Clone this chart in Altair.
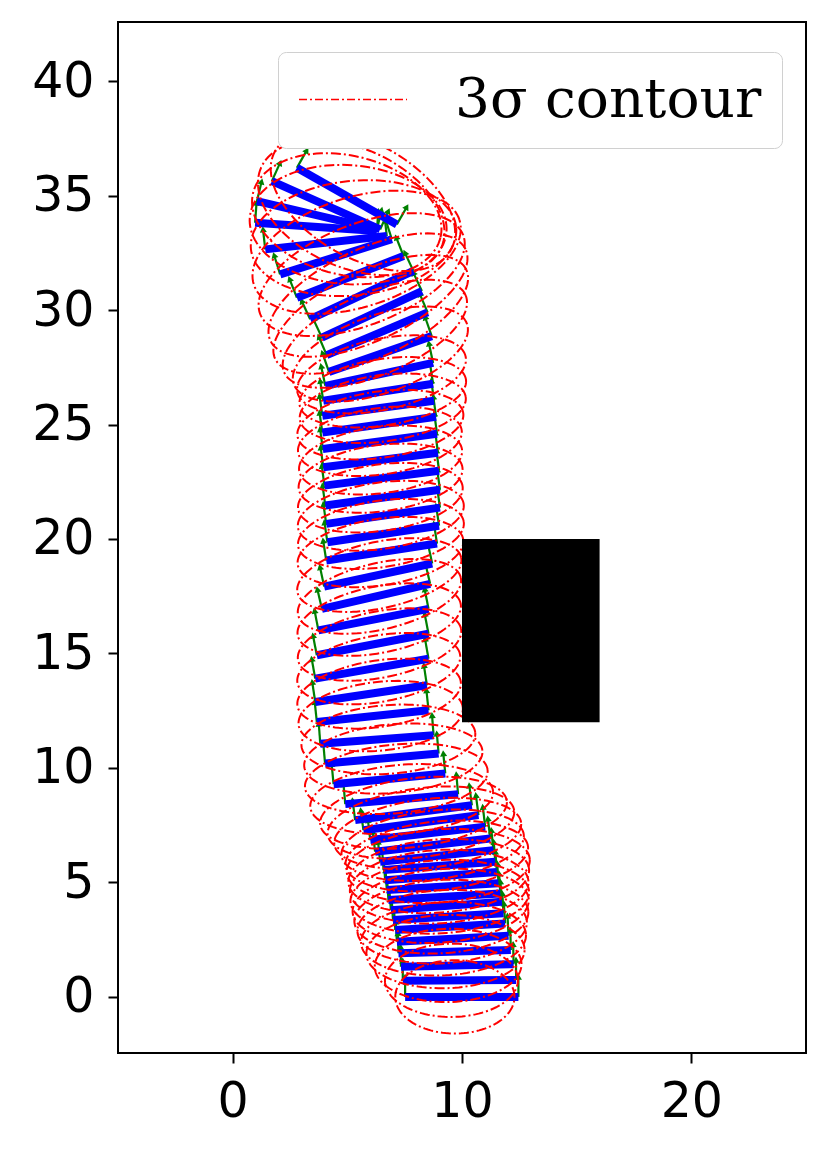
import numpy as np
import pandas as pd
import altair as alt

# ---- rod poses: left and right end points (data units) ----
xl = [7.52, 7.42, 7.34, 7.23, 7.16, 7.09, 6.99, 6.90, 6.79, 6.72, 6.65, 6.58, 6.43, 6.21, 6.00,
      5.70, 5.34, 4.91, 4.40, 4.03, 3.82, 3.67, 3.60, 3.60, 3.67, 3.74, 3.89, 3.99, 4.08, 4.13,
      4.08, 4.04, 4.00, 3.95, 3.93, 3.91, 3.91, 3.95, 4.04, 4.20, 4.10, 3.89, 3.38, 2.80, 2.07,
      1.42, 0.98, 1.06, 1.71, 2.80]
yl = [0.00, 0.71, 1.32, 1.91, 2.41, 2.92, 3.36, 3.79, 4.23, 4.67, 5.10, 5.54, 5.90, 6.34, 6.85,
      7.28, 7.72, 8.42, 9.29, 10.19, 11.06, 12.01, 12.88, 13.90, 14.92, 16.01, 16.95, 17.92, 19.06, 19.86,
      20.66, 21.46, 22.33, 23.13, 23.93, 24.65, 25.38, 26.04, 26.69, 27.30, 28.03, 28.80, 29.60, 30.54, 31.56,
      32.65, 33.81, 34.76, 35.63, 36.21]
xr = [12.46, 12.36, 12.25, 12.13, 12.03, 11.88, 11.81, 11.74, 11.67, 11.59, 11.52, 11.45, 11.37, 11.23, 11.01,
      10.72, 10.43, 9.83, 9.27, 8.98, 8.76, 8.54, 8.47, 8.54, 8.54, 8.54, 8.61, 8.70, 8.91, 9.00,
      9.04, 9.04, 9.00, 8.95, 8.91, 8.87, 8.78, 8.74, 8.74, 8.68, 8.50, 8.25, 7.88, 7.45, 6.94,
      6.72, 6.29, 6.29, 6.43, 7.16]
yr = [0.00, 0.74, 1.43, 2.05, 2.67, 3.21, 3.65, 4.16, 4.52, 4.96, 5.46, 5.90, 6.41, 6.92, 7.43,
      7.94, 8.37, 8.85, 9.76, 10.63, 11.43, 12.52, 13.61, 14.77, 15.86, 16.95, 18.04, 18.93, 19.80, 20.58,
      21.37, 22.15, 22.98, 23.77, 24.60, 25.34, 26.04, 26.78, 27.69, 28.86, 29.90, 30.83, 31.71, 32.36, 33.09,
      33.23, 33.45, 33.52, 33.52, 33.74]

# ---- 3-sigma contours: semi-axes and centre offsets (per pose) ----
ell_a = [2.6, 2.9, 3.2, 3.45, 3.6, 3.7, 3.8, 3.85, 3.9, 3.9, 3.95, 4.0,
         4.0, 4.0, 4.1, 4.1, 4.1, 4.0, 4.0,
         3.9, 3.8, 3.6,
         3.6, 3.6, 3.62, 3.62, 3.64, 3.65, 3.65, 3.65, 3.65, 3.62, 3.6, 3.58, 3.6, 3.65, 3.65, 3.67,
         3.75, 4.0,
         4.3, 4.6, 4.7, 4.75, 4.7, 4.5, 4.3, 4.2, 4.3, 4.4]
ell_b = [1.6] * 12 + [1.5] * 10 + [1.45] * 16 + [1.55, 1.7] + \
        [1.8, 1.9, 2.0, 2.2, 2.4, 2.5, 2.6, 2.6, 2.6, 2.5]
ell_dx = [-0.3, -0.35, -0.4, -0.4, -0.4, -0.35, -0.3, -0.25, -0.2, -0.15, -0.1, -0.05,
          0, 0, 0, 0, 0, 0,
          0.3, 0.5, 0.5, 0.35,
          0.35, 0.3, 0.3, 0.25, 0.15, 0.05, -0.05, -0.1, -0.1, -0.1, -0.05, 0, 0, 0.05, 0.2, 0.2,
          0.1, 0,
          -0.1, -0.05, 0.27, 0.5, 0.9, 1.2, 1.4, 1.3, 1.1, 0.7]
ell_dy = [0] * 43 + [0.1, 0.2, 0.2, 0.1, 0.0, -0.1, -0.2]

# ---- obstacle ----
obs_x = [10, 16]
obs_y = [12, 20]

x_ticks = [0, 10, 20]
y_ticks = [0, 5, 10, 15, 20, 25, 30, 35, 40]
legend_label = "3σ contour"

# ---------------- derived tables ----------------
XL, YL, XR, YR = map(np.array, (xl, yl, xr, yr))
DX, DY = XR - XL, YR - YL
LEN = np.hypot(DX, DY)
NX, NY = -DY / LEN, DX / LEN
THETA = np.arctan2(DY, DX)

bars = pd.DataFrame({"x": XL, "y": YL, "x2": XR, "y2": YR})

arrow_len = 1.0
shafts, heads = [], []
for i in range(len(XL)):
    for bx, by in ((XL[i], YL[i]), (XR[i], YR[i])):
        tx, ty = bx + NX[i] * arrow_len, by + NY[i] * arrow_len
        shafts.append({"x": bx, "y": by, "x2": tx - 0.15 * NX[i], "y2": ty - 0.15 * NY[i]})
        ang = (np.degrees(np.arctan2(NX[i], NY[i])) + 360) % 360
        heads.append({"x": tx - 0.12 * NX[i], "y": ty - 0.12 * NY[i], "ang": ang})
shafts = pd.DataFrame(shafts)
heads = pd.DataFrame(heads)

t = np.linspace(0, 2 * np.pi, 121)
ell_rows = []
for i in range(len(XL)):
    cx = (XL[i] + XR[i]) / 2 + ell_dx[i]
    cy = (YL[i] + YR[i]) / 2 + ell_dy[i]
    c, s = np.cos(THETA[i]), np.sin(THETA[i])
    ex = cx + ell_a[i] * np.cos(t) * c - ell_b[i] * np.sin(t) * s
    ey = cy + ell_a[i] * np.cos(t) * s + ell_b[i] * np.sin(t) * c
    for k in range(len(t)):
        ell_rows.append({"x": ex[k], "y": ey[k], "eid": i, "k": k, "series": legend_label})
ells = pd.DataFrame(ell_rows)

obstacle = pd.DataFrame({"x": [obs_x[0]], "x2": [obs_x[1]], "y": [obs_y[0]], "y2": [obs_y[1]]})

# ---------------- chart ----------------
xs = alt.Scale(domain=[-5, 25], nice=False, zero=False)
ys = alt.Scale(domain=[-2.45, 42.58], nice=False, zero=False)
xax = alt.Axis(values=x_ticks, title=None)
yax = alt.Axis(values=y_ticks, title=None)

X = alt.X("x:Q", scale=xs, axis=xax)
Y = alt.Y("y:Q", scale=ys, axis=yax)

shaft_layer = alt.Chart(shafts).mark_rule(color="green", strokeWidth=2.2).encode(
    x=X, y=Y, x2="x2:Q", y2="y2:Q")
head_layer = alt.Chart(heads).mark_point(shape="triangle-up", filled=True, color="green",
                                         size=50, opacity=1).encode(
    x=X, y=Y, angle=alt.Angle("ang:Q", scale=None))
bar_layer = alt.Chart(bars).mark_rule(color="blue", strokeWidth=8, strokeCap="butt").encode(
    x=X, y=Y, x2="x2:Q", y2="y2:Q")
ell_layer = alt.Chart(ells).mark_line(strokeWidth=2.0, strokeDash=[10, 3, 2, 3], clip=True).encode(
    x=X, y=Y, detail="eid:N", order="k:Q",
    color=alt.Color("series:N",
                    scale=alt.Scale(domain=[legend_label], range=["#ff0000"]),
                    legend=alt.Legend(title=None, orient="none", legendX=160, legendY=30,
                                      symbolType="stroke", symbolSize=11664,
                                      symbolStrokeWidth=1.3, symbolDash=[8, 3, 2, 3],
                                      clipHeight=55,
                                      labelFont="DejaVu Serif", labelFontSize=55,
                                      labelColor="black", labelOffset=47, labelLimit=600,
                                      padding=20, strokeColor="#d0d0d0",
                                      fillColor="white", cornerRadius=8)))
obs_layer = alt.Chart(obstacle).mark_rect(color="black").encode(
    x=X, y=Y, x2="x2:Q", y2="y2:Q")

chart = alt.layer(shaft_layer, head_layer, bar_layer, ell_layer, obs_layer).properties(
    width=688, height=1031,
    autosize=alt.AutoSizeParams(type="none"),
    padding={"left": 110, "top": 14, "right": 15, "bottom": 94},
).configure_view(stroke="black", strokeWidth=2).configure_axis(
    labelFont="DejaVu Sans", labelFontSize=49, labelColor="black",
    tickColor="black", tickWidth=2, tickSize=10, domain=False, grid=False, labelPadding=14)

chart.save("out.html", embed_options={"renderer": "svg", "actions": False})
